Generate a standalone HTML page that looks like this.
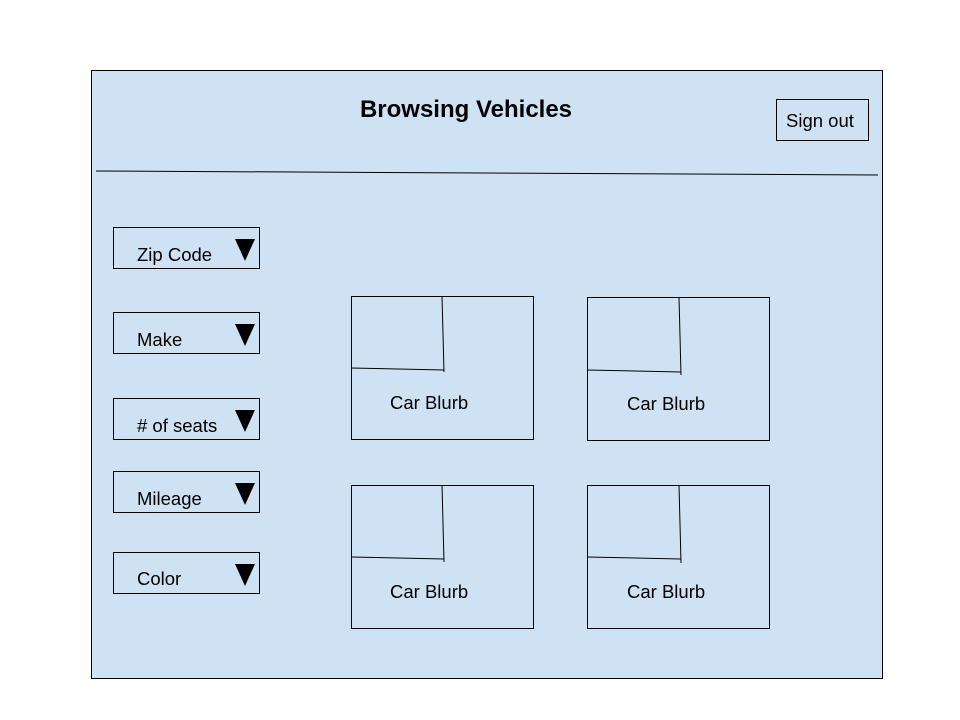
<!DOCTYPE html>
<html><head><meta charset="utf-8"><style>
html,body{margin:0;padding:0;background:#fff;width:960px;height:720px;overflow:hidden}
svg{display:block;font-family:"Liberation Sans",Arial,sans-serif}
</style></head><body>
<svg width="960" height="720">
<rect x="91.5" y="70.5" width="791" height="608" fill="#cfe2f3" stroke="#000"/>
<text x="466" y="117" text-anchor="middle" font-size="24" font-weight="bold">Browsing Vehicles</text>
<g>
<rect x="776.5" y="99.5" width="92" height="41" fill="none" stroke="#000"/>
<text x="786" y="127" font-size="18.5">Sign out</text></g>
<line x1="96" y1="171" x2="878" y2="175" stroke="#000"/>
<g><rect x="113.5" y="227.5" width="146" height="41" fill="none" stroke="#000"/><text x="137" y="261" font-size="18.5">Zip Code</text><polygon points="235,239 255,239 245,261" fill="#000"/></g>
<g><rect x="113.5" y="312.5" width="146" height="41" fill="none" stroke="#000"/><text x="137" y="346" font-size="18.5">Make</text><polygon points="235,324 255,324 245,346" fill="#000"/></g>
<g><rect x="113.5" y="398.5" width="146" height="41" fill="none" stroke="#000"/><text x="137" y="432" font-size="18.5"># of seats</text><polygon points="235,410 255,410 245,432" fill="#000"/></g>
<g><rect x="113.5" y="471.5" width="146" height="41" fill="none" stroke="#000"/><text x="137" y="505" font-size="18.5">Mileage</text><polygon points="235,483 255,483 245,505" fill="#000"/></g>
<g><rect x="113.5" y="552.5" width="146" height="41" fill="none" stroke="#000"/><text x="137" y="585" font-size="18.5">Color</text><polygon points="235,564 255,564 245,586" fill="#000"/></g>
<g><rect x="351.5" y="296.5" width="182" height="143" fill="none" stroke="#000"/><line x1="442" y1="296" x2="444" y2="372" stroke="#000"/><line x1="351" y1="368" x2="444" y2="370" stroke="#000"/><text x="390" y="409" font-size="18.5">Car Blurb</text></g>
<g><rect x="587.5" y="297.5" width="182" height="143" fill="none" stroke="#000"/><line x1="679" y1="297" x2="681" y2="375" stroke="#000"/><line x1="587" y1="370" x2="681" y2="372" stroke="#000"/><text x="627" y="410" font-size="18.5">Car Blurb</text></g>
<g><rect x="351.5" y="485.5" width="182" height="143" fill="none" stroke="#000"/><line x1="442" y1="485" x2="444" y2="562" stroke="#000"/><line x1="351" y1="557" x2="444" y2="559" stroke="#000"/><text x="390" y="598" font-size="18.5">Car Blurb</text></g>
<g><rect x="587.5" y="485.5" width="182" height="143" fill="none" stroke="#000"/><line x1="679" y1="485" x2="681" y2="563" stroke="#000"/><line x1="587" y1="557" x2="681" y2="559" stroke="#000"/><text x="627" y="598" font-size="18.5">Car Blurb</text></g>
</svg>
</body></html>
